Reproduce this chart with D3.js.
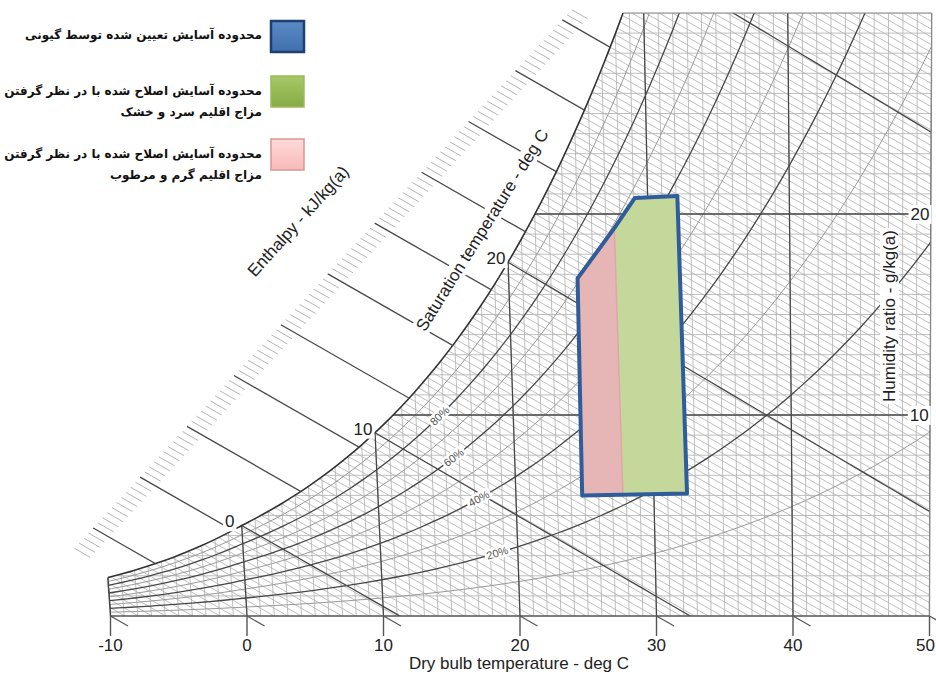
<!DOCTYPE html>
<meta charset="utf-8">
<style>
body { margin: 0; background: #fff; }
svg text { font-family: "Liberation Sans", Arial, sans-serif; }
.grid line, .grid path { stroke: #b3b3b3; stroke-width: 0.85; fill: none; }
.dark { stroke: #474747; stroke-width: 1.3; fill: none; }
.legend text { font-family: "DejaVu Sans", sans-serif; font-weight: bold; font-size: 12px; fill: #111; }
</style>
<svg width="936" height="675"></svg>
<script src="https://d3js.org/d3.v7.min.js"></script>
<script>

  // chart drawn for a site pressure of about 85 kPa
  var pressure = 85;
  var tempStart = -10;
  // saturation vapour pressure, kPa, at each degree from -10 to 50 C
  var satPressure = [0.2600, 0.2840, 0.3099, 0.3381, 0.3686, 0.4017, 0.4374, 0.4761, 0.5179, 0.5630,
                     0.6112, 0.6571, 0.7060, 0.7581, 0.8135, 0.8726, 0.9354, 1.0021, 1.0730, 1.1483,
                     1.2282, 1.3129, 1.4028, 1.4981, 1.5990, 1.7058, 1.8188, 1.9384, 2.0647, 2.1983,
                     2.3393, 2.4882, 2.6453, 2.8111, 2.9858, 3.1699, 3.3639, 3.5681, 3.7831, 4.0092,
                     4.2470, 4.4969, 4.7596, 5.0354, 5.3251, 5.6290, 5.9479, 6.2823, 6.6328, 7.0002,
                     7.3849, 7.7878, 8.2096, 8.6508, 9.1124, 9.5950, 10.099, 10.625, 11.175, 11.749,
                     12.352];
  var tempTicks = [-10, 0, 10, 20, 30, 40, 50];
  var humidityTicks = [10, 20];
  var rhLevels = [10, 20, 30, 40, 50, 60, 70, 80, 90];
  var rhLabelled = [80, 60, 40, 20];
  var rhLabelTemps = [14.7, 15.6, 17.3, 18.5];
  var wetBulbTemps = [0, 10, 20, 30];
  var satLabels = [0, 10, 20];
  var enthalpyMajors = [0, 10, 20, 30, 40, 50, 60, 70, 80, 90, 100];

  // comfort zones, [dry bulb C, humidity ratio g/kg]
  var comfortOuter = [[24.8, 6.0], [24.9, 16.8], [27.6, 19.3], [29.1, 20.8], [32.1, 20.9], [32.4, 6.1]];
  var comfortHumid = [[24.8, 6.0], [24.9, 16.8], [27.6, 19.3], [27.75, 6.0]];
  var comfortDry = [[27.6, 19.3], [29.1, 20.8], [32.1, 20.9], [32.4, 6.1], [27.75, 6.0]];

  var legendLabels = [
    ["محدوده آسایش تعیین شده توسط گیونی"],
    ["محدوده آسایش اصلاح شده با در نظر گرفتن", "مزاج اقلیم سرد و خشک"],
    ["محدوده آسایش اصلاح شده با در نظر گرفتن", "مزاج اقلیم گرم و مرطوب"]
  ];
  var legendColors = [["#5b8ac6", "#3f6fae", "#1f3f73"], ["#a6c867", "#86ab45", "#9bbb59"], ["#ffdada", "#f7b9b9", "#d99694"]];

  var svg = d3.select("svg");
  var defs = svg.append("defs");

  var x = d3.scaleLinear().domain([-10, 50]).range([110.5, 929.5]);
  var y = d3.scaleLinear().domain([0, 30]).range([616, 13]);

  // oblique chart: dry bulb lines lean slightly, enthalpy lines are straight
  function px(t, w) { return x(t + 0.00184 * w * (t - 47)); }
  function hx(h, w) { return x((h - 2.588 * w) / 1.006); }
  function pws(t) {
    var i = Math.floor(t - tempStart), f = t - tempStart - i;
    if (i >= satPressure.length - 1) return satPressure[satPressure.length - 1];
    return satPressure[i] + f * (satPressure[i + 1] - satPressure[i]);
  }
  function wsat(t, phi) {
    phi = phi == null ? 1 : phi;
    var p = phi * pws(t);
    return 622 * p / (pressure - p);
  }

  var temps = satPressure.map(function(d, i) { return tempStart + i; });
  var curve = d3.line()
      .x(function(d) { return px(d[0], d[1]); })
      .y(function(d) { return y(d[1]); })
      .curve(d3.curveCatmullRom);
  var straight = d3.line()
      .x(function(d) { return px(d[0], d[1]); })
      .y(function(d) { return y(d[1]); });

  var satPts = temps.filter(function(t) { return t <= 30; }).map(function(t) { return [t, wsat(t)]; });
  // where the saturation line meets the top of the chart
  var tTop = 28;
  for (var k = 0; k < satPts.length - 1; k++) {
    if (satPts[k][1] <= 30 && satPts[k + 1][1] > 30) {
      tTop = satPts[k][0] + (30 - satPts[k][1]) / (satPts[k + 1][1] - satPts[k][1]);
    }
  }

  defs.append("clipPath").attr("id", "frame").append("path")
      .attr("d", straight([[-10, 0], [50, 0], [50, 30], [-10, 30]]) + "Z");
  defs.append("clipPath").attr("id", "undersat").append("path")
      .attr("d", curve(satPts) + "L1000,-200L1000,700L" + (x(-10) - 1) + ",700Z");
  defs.append("clipPath").attr("id", "oversat").append("path")
      .attr("d", curve(satPts) + "L-200,-200L-200," + y(wsat(-10)) + "Z");

  var frameG = svg.append("g").attr("clip-path", "url(#frame)");
  var chartG = frameG.append("g").attr("clip-path", "url(#undersat)");
  var grid = chartG.append("g").attr("class", "grid");

  // humidity ratio lines
  d3.range(1, 31).forEach(function(w) {
    grid.append("line")
        .attr("x1", px(-10, w)).attr("y1", y(w))
        .attr("x2", px(50, w)).attr("y2", y(w));
  });
  // dry bulb lines
  temps.forEach(function(t) {
    grid.append("line")
        .attr("x1", px(t, 0)).attr("y1", y(0))
        .attr("x2", px(t, 30)).attr("y2", y(30));
  });
  // enthalpy lines every kJ/kg
  d3.range(-10, 145).forEach(function(h) {
    grid.append("line")
        .attr("x1", hx(h, 0)).attr("y1", y(0))
        .attr("x2", hx(h, 30)).attr("y2", y(30));
  });
  // relative humidity curves
  rhLevels.forEach(function(rh) {
    var pts = temps.map(function(t) { return [t, wsat(t, rh / 100)]; })
        .filter(function(d, i, a) { return i === 0 || a[i - 1][1] < 31; });
    chartG.append("path")
        .attr("class", rh % 20 === 0 ? "dark" : "")
        .attr("fill", "none")
        .attr("stroke", rh % 20 === 0 ? null : "#9a9a9a")
        .attr("stroke-width", rh % 20 === 0 ? null : 1)
        .attr("d", curve(pts));
  });

  // major dry bulb and humidity lines
  tempTicks.forEach(function(t) {
    chartG.append("line").attr("class", "dark")
        .attr("x1", px(t, 0)).attr("y1", y(0))
        .attr("x2", px(t, 30)).attr("y2", y(30));
  });
  humidityTicks.forEach(function(w) {
    chartG.append("line").attr("class", "dark")
        .attr("x1", px(-10, w)).attr("y1", y(w))
        .attr("x2", px(50, w)).attr("y2", y(w));
  });

  // wet bulb lines from the saturation curve
  wetBulbTemps.forEach(function(tw) {
    var ws = wsat(tw) / 1000;
    var pts = temps.filter(function(t) { return t >= tw; }).map(function(t) {
      return [t, 1000 * ((2501 - 2.326 * tw) * ws - 1.006 * (t - tw)) / (2501 + 1.86 * t - 4.186 * tw)];
    }).filter(function(d, i, a) { return i === 0 || a[i - 1][1] > -1; });
    chartG.append("path").attr("class", "dark").attr("d", straight(pts));
  });

  // saturation curve and frame
  frameG.append("path").attr("d", curve(satPts))
      .attr("fill", "none").attr("stroke", "#333").attr("stroke-width", 1.6);
  svg.append("line").attr("x1", px(tTop, 30)).attr("y1", y(30)).attr("x2", px(50, 30)).attr("y2", y(30))
      .attr("stroke", "#888").attr("stroke-width", 1.2);
  svg.append("line").attr("x1", px(50, 0)).attr("y1", y(0)).attr("x2", px(50, 30)).attr("y2", y(30))
      .attr("stroke", "#888").attr("stroke-width", 1.2);
  svg.append("line").attr("x1", px(-10, 0)).attr("y1", y(0)).attr("x2", px(-10, wsat(-10))).attr("y2", y(wsat(-10)))
      .attr("stroke", "#444").attr("stroke-width", 1.4);
  svg.append("line").attr("x1", px(-10, 0)).attr("y1", y(0)).attr("x2", px(50, 0)).attr("y2", y(0))
      .attr("stroke", "#555").attr("stroke-width", 1.6);

  // enthalpy scale along the upper left
  function scaleW(h) { return 4.38 + 0.2528 * h; }
  var outG = svg.append("g").attr("clip-path", "url(#oversat)");
  enthalpyMajors.forEach(function(h) {
    outG.append("line").attr("class", "dark")
        .attr("x1", hx(h, scaleW(h))).attr("y1", y(scaleW(h)))
        .attr("x2", hx(h, 0)).attr("y2", y(0));
  });
  d3.range(-4, 103).forEach(function(h) {
    if (h % 10 === 0 && h >= 0 && h <= 100) return;
    var w0 = scaleW(h), w1 = w0 - 0.45;
    svg.append("line")
        .attr("x1", hx(h, w0)).attr("y1", y(w0))
        .attr("x2", hx(h, w1)).attr("y2", y(w1))
        .attr("stroke", "#b5b5b5").attr("stroke-width", 1);
  });

  // comfort zones
  var zone = d3.line()
      .x(function(d) { return px(d[0], d[1]); })
      .y(function(d) { return y(d[1]); });
  svg.append("path").attr("d", zone(comfortHumid) + "Z").attr("fill", "#e6b5b5");
  svg.append("path").attr("d", zone(comfortDry) + "Z").attr("fill", "#c4d89c");
  svg.append("line")
      .attr("x1", px(comfortHumid[2][0], comfortHumid[2][1])).attr("y1", y(comfortHumid[2][1]))
      .attr("x2", px(comfortHumid[3][0], comfortHumid[3][1])).attr("y2", y(comfortHumid[3][1]))
      .attr("stroke", "#e0a7a7").attr("stroke-width", 1.5);
  svg.append("path").attr("d", zone(comfortOuter) + "Z")
      .attr("fill", "none").attr("stroke", "#2f5d9c").attr("stroke-width", 4)
      .attr("stroke-linejoin", "round");

  // text with white background
  function label(parent, txt, cx, cy, angle, size, fill) {
    var g = parent.append("g").attr("transform", "translate(" + cx + "," + cy + ") rotate(" + angle + ")");
    var r = g.append("rect").attr("fill", "#fff");
    var t = g.append("text").attr("text-anchor", "middle").attr("dy", "0.35em")
        .style("font-size", size + "px").attr("fill", fill).text(txt);
    var b = t.node().getBBox();
    r.attr("x", b.x - 2).attr("y", b.y).attr("width", b.width + 4).attr("height", b.height);
    return g;
  }

  // RH labels
  rhLabelled.forEach(function(rh, i) {
    var t = rhLabelTemps[i];
    var a = [px(t - 0.5, wsat(t - 0.5, rh / 100)), y(wsat(t - 0.5, rh / 100))];
    var b = [px(t + 0.5, wsat(t + 0.5, rh / 100)), y(wsat(t + 0.5, rh / 100))];
    var ang = Math.atan2(b[1] - a[1], b[0] - a[0]) * 180 / Math.PI;
    label(svg, rh + "%", (a[0] + b[0]) / 2, (a[1] + b[1]) / 2, ang, 11, "#555");
  });

  // saturation temperature labels
  satLabels.forEach(function(t) {
    label(svg, t, px(t, wsat(t)) - 12, y(wsat(t)) - 4, 0, 17, "#222");
  });

  // humidity ratio labels on the right
  humidityTicks.forEach(function(w) {
    label(svg, w, px(50, w) - 11, y(w), 0, 17, "#222");
  });

  // dry bulb axis
  var axisG = svg.append("g");
  tempTicks.forEach(function(t, i) {
    var x0 = px(t, 0), y0 = y(0);
    var last = i === tempTicks.length - 1;
    axisG.append("line").attr("x1", x0).attr("y1", y0).attr("x2", x0).attr("y2", y0 + 20)
        .attr("stroke", "#555").attr("stroke-width", 1.4);
    axisG.append("line").attr("x1", x0).attr("y1", y0).attr("x2", hx(t * 1.006, -0.5)).attr("y2", y(-0.5))
        .attr("stroke", "#555").attr("stroke-width", 1.2);
    axisG.append("text").attr("x", last ? 935 : x0).attr("y", y0 + 35)
        .attr("text-anchor", last ? "end" : "middle")
        .style("font-size", "17px").attr("fill", "#222").text(t);
  });
  svg.append("text").attr("x", 519).attr("y", 669).attr("text-anchor", "middle")
      .style("font-size", "17px").attr("fill", "#222").text("Dry bulb temperature - deg C");

  // axis titles
  label(svg, "Enthalpy - kJ/kg(a)", 298, 221, -48, 17, "#222");
  label(svg, "Saturation temperature - deg C", 482, 230, -58, 17, "#222");
  label(svg, "Humidity ratio - g/kg(a)", 889, 316, -90, 17, "#222");

  // legend
  var legendTops = [21, 76, 139];
  var legend = svg.append("g").attr("class", "legend");
  legendLabels.forEach(function(lines, i) {
    var grad = defs.append("linearGradient").attr("id", "lg" + i)
        .attr("x1", 0).attr("y1", 0).attr("x2", 0).attr("y2", 1);
    grad.append("stop").attr("offset", "0%").attr("stop-color", legendColors[i][0]);
    grad.append("stop").attr("offset", "100%").attr("stop-color", legendColors[i][1]);
    legend.append("rect")
        .attr("x", 271).attr("y", legendTops[i]).attr("width", 33).attr("height", 31)
        .attr("fill", "url(#lg" + i + ")").attr("stroke", legendColors[i][2])
        .attr("stroke-width", i === 0 ? 2.5 : 1.5);
    lines.forEach(function(s, j) {
      legend.append("text")
          .attr("x", 262)
          .attr("y", legendTops[i] + (lines.length === 1 ? 18 : 19 + j * 21))
          .attr("text-anchor", "end")
          .text(s);
    });
  });
</script>
